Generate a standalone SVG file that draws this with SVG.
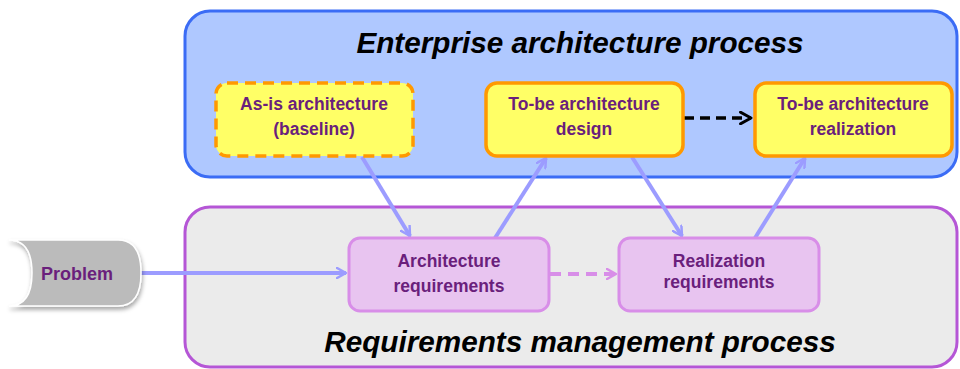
<svg xmlns="http://www.w3.org/2000/svg" width="960" height="369" viewBox="0 0 960 369">
<defs>
<style>
.title{font-family:"Liberation Sans",Arial,sans-serif;font-weight:bold;font-style:italic;font-size:29.7px;fill:#000;text-anchor:middle}
.lbl{font-family:"Liberation Sans",Arial,sans-serif;font-weight:bold;font-size:17.5px;fill:#6a1f7c;text-anchor:middle}
.ynode{fill:#ffff66;stroke:#ff9900;stroke-width:3.5}
.pnode{fill:#e8c4f0;stroke:#d88ee8;stroke-width:3}
.conn{stroke:#9c9cff;stroke-width:4;fill:none}
</style>
<marker id="ah" viewBox="0 0 12 12" refX="10" refY="6" markerWidth="12" markerHeight="12" markerUnits="userSpaceOnUse" orient="auto">
<path d="M1,1 L10,6 L1,11" fill="none" stroke="#9c9cff" stroke-width="2.5" stroke-linecap="round" stroke-linejoin="round"/>
</marker>
<marker id="ahp" viewBox="0 0 12 12" refX="10" refY="6" markerWidth="12" markerHeight="12" markerUnits="userSpaceOnUse" orient="auto">
<path d="M1,1 L10,6 L1,11" fill="none" stroke="#d88ee8" stroke-width="2.5" stroke-linecap="round" stroke-linejoin="round"/>
</marker>
<marker id="ahb" viewBox="0 0 12 12" refX="10" refY="6" markerWidth="14" markerHeight="14" markerUnits="userSpaceOnUse" orient="auto">
<path d="M1,1 L10,6 L1,11" fill="none" stroke="#000" stroke-width="2.5" stroke-linecap="round" stroke-linejoin="round"/>
</marker>
<filter id="sh" x="-20%" y="-20%" width="140%" height="150%">
<feDropShadow dx="1" dy="3" stdDeviation="2" flood-color="#000" flood-opacity="0.35"/>
</filter>
</defs>
<rect width="960" height="369" fill="#fff"/>
<g id="ea-process">
<rect x="185" y="11" width="772" height="166" rx="25" fill="#afc8ff" stroke="#3b6cf5" stroke-width="3"/>
<text class="title" x="580" y="53">Enterprise architecture process</text>
</g>
<g id="rm-process">
<rect x="185" y="207" width="772" height="160" rx="25" fill="#ebebeb" stroke="#b556d6" stroke-width="3"/>
<text class="title" x="580" y="352">Requirements management process</text>
</g>
<g id="connectors">
<line class="conn" x1="140" y1="273" x2="346" y2="273" marker-end="url(#ah)"/>
<line class="conn" x1="362" y1="157" x2="410" y2="236" marker-end="url(#ah)"/>
<line class="conn" x1="495" y1="238" x2="546" y2="158" marker-end="url(#ah)"/>
<line class="conn" x1="632" y1="157" x2="682" y2="236" marker-end="url(#ah)"/>
<line class="conn" x1="755" y1="238" x2="805" y2="158" marker-end="url(#ah)"/>
<line x1="550" y1="274" x2="616" y2="274" stroke="#d88ee8" stroke-width="4" stroke-dasharray="11,7" marker-end="url(#ahp)"/>
<line x1="684" y1="118" x2="751" y2="118" stroke="#000" stroke-width="3.5" stroke-dasharray="10,6" marker-end="url(#ahb)"/>
</g>
<g id="as-is">
<rect class="ynode" x="216" y="83" width="197" height="73" rx="11" stroke-dasharray="11,7"/>
<text class="lbl" x="314" y="110">As-is architecture</text>
<text class="lbl" x="314" y="135">(baseline)</text>
</g>
<g id="to-be-design">
<rect class="ynode" x="486" y="83" width="197" height="73" rx="11"/>
<text class="lbl" x="584" y="110">To-be architecture</text>
<text class="lbl" x="584" y="135">design</text>
</g>
<g id="to-be-realization">
<rect class="ynode" x="755" y="83" width="197" height="73" rx="11"/>
<text class="lbl" x="853" y="110">To-be architecture</text>
<text class="lbl" x="853" y="135">realization</text>
</g>
<g id="arch-req">
<rect class="pnode" x="349" y="238" width="200" height="73" rx="11"/>
<text class="lbl" x="449" y="267">Architecture</text>
<text class="lbl" x="449" y="292">requirements</text>
</g>
<g id="real-req">
<rect class="pnode" x="619" y="238" width="200" height="73" rx="11"/>
<text class="lbl" x="719" y="267">Realization</text>
<text class="lbl" x="719" y="288">requirements</text>
</g>
<g id="problem">
<path d="M9,240 L118,240 Q141,240 141,273 Q141,306 118,306 L9,306 Q32,306 32,273 Q32,240 9,240 Z" fill="#bbbbbb" stroke="#ffffff" stroke-width="1.5" filter="url(#sh)"/>
<text class="lbl" x="77" y="280" style="font-size:18px">Problem</text>
</g>
</svg>
